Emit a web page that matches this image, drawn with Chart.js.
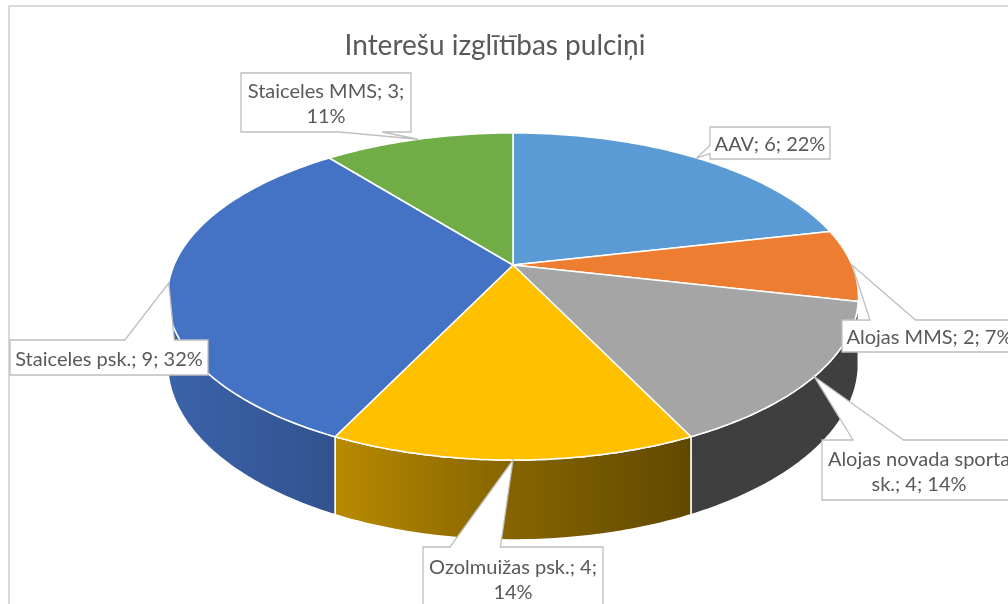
<!DOCTYPE html>
<html>
<head>
<meta charset="utf-8">
<script src="https://cdn.jsdelivr.net/npm/chart.js@4/dist/chart.umd.min.js"></script>
<style>
html,body{margin:0;padding:0;background:#fff}
#wrap{width:1008px;height:604px;position:relative}
</style>
</head>
<body>
<div id="wrap"><canvas id="pie"></canvas></div>
<script>
const title = 'Interešu izglītības pulciņi';
const labels = ['AAV','Alojas MMS','Alojas novada sporta sk.','Ozolmuižas psk.','Staiceles psk.','Staiceles MMS'];
const counts = [6,2,4,4,9,3];
const percents = [22,7,14,14,32,11];
const colors = ['#5B9BD5','#ED7D31','#A5A5A5','#FFC000','#4472C4','#70AD47'];

// callout boxes (x,y,w,h), side carrying the pointer, pointer base as fractions of that side
const callouts = [
  {box:[710,127,120,32], side:'left',   base:[0.58,0.83]},
  {box:[842,320,175,32], side:'top',    base:[0.16,0.42]},
  {box:[822,440,194,60], side:'top',    base:[0.16,0.42], wrap:3},
  {box:[423,547,180,62], side:'top',    base:[0.15,0.43], wrap:3},
  {box:[10,340,198,35],  side:'top',    base:[0.58,0.83]},
  {box:[241,73,170,59],  side:'bottom', base:[0.58,0.83], wrap:3}
];

// 3d look: perspective of the tilted disc, and shading of the side wall (left -> right)
const TILT = {a:1.937, e:-0.608, h:0.1927, depth:0.3686};
const wallShade = [[0,0.87],[0.245,0.72],[0.5,0.52],[0.755,0.38],[1,0.38]];
const FONT = 'Lato';

function shade(hex,f){
  const n=parseInt(hex.slice(1),16);
  const r=Math.round(((n>>16)&255)*f), g=Math.round(((n>>8)&255)*f), b=Math.round((n&255)*f);
  return `rgb(${r},${g},${b})`;
}

function projector(arc){
  const R=arc.outerRadius, cx=arc.x, cy=arc.y;
  const a=R*TILT.a, e=R*TILT.e, D=R*TILT.depth, h=TILT.h;
  return (t,r,down)=>{
    const s=Math.sin(t)*r, c=Math.cos(t)*r, w=1+h*c;
    return [cx+a*s/w, (e*c+cy+(down?D:0))/w];
  };
}

const pie3d = {
  id:'pie3d',
  beforeDatasetsDraw(chart){
    const ctx=chart.ctx, arcs=chart.getDatasetMeta(0).data;
    const P=projector(arcs[0]);
    const ts=Math.acos(-TILT.h), te=2*Math.PI-ts;
    const xR=P(ts,1)[0], xL=P(te,1)[0];
    ctx.save();
    ctx.lineJoin='round';
    // side walls
    arcs.forEach((arc,i)=>{
      const t1=Math.max(arc.startAngle+Math.PI/2,ts), t2=Math.min(arc.endAngle+Math.PI/2,te);
      if(t2<=t1) return;
      const g=ctx.createLinearGradient(xL,0,xR,0);
      wallShade.forEach(([p,f])=>g.addColorStop(p,shade(colors[i],f)));
      const n=Math.max(2,Math.ceil((t2-t1)*80));
      ctx.beginPath();
      for(let k=0;k<=n;k++){const p=P(t1+(t2-t1)*k/n,1,false);k?ctx.lineTo(p[0],p[1]):ctx.moveTo(p[0],p[1]);}
      for(let k=n;k>=0;k--){const p=P(t1+(t2-t1)*k/n,1,true);ctx.lineTo(p[0],p[1]);}
      ctx.closePath();
      ctx.fillStyle=g; ctx.fill();
      ctx.strokeStyle='#fff'; ctx.lineWidth=1.5; ctx.stroke();
    });
    // top face
    arcs.forEach((arc,i)=>{
      const t1=arc.startAngle+Math.PI/2, t2=arc.endAngle+Math.PI/2;
      const n=Math.max(2,Math.ceil((t2-t1)*80));
      const c=P(0,0,false);
      ctx.beginPath();
      ctx.moveTo(c[0],c[1]);
      for(let k=0;k<=n;k++){const p=P(t1+(t2-t1)*k/n,1,false);ctx.lineTo(p[0],p[1]);}
      ctx.closePath();
      ctx.fillStyle=colors[i]; ctx.fill();
      ctx.strokeStyle='#fff'; ctx.lineWidth=1.5; ctx.stroke();
    });
    ctx.restore();
    return false;
  },
  afterDraw(chart){
    const ctx=chart.ctx, arcs=chart.getDatasetMeta(0).data;
    const P=projector(arcs[0]);
    ctx.save();
    // chart border
    ctx.strokeStyle='#D9D9D9'; ctx.lineWidth=2;
    ctx.strokeRect(9,6,1100,700);
    // title
    ctx.fillStyle='#595959';
    ctx.font=`28px ${FONT}`;
    ctx.textAlign='center';
    ctx.fillText(title,495,55);
    // callouts
    ctx.font=`20px ${FONT}`;
    callouts.forEach((c,i)=>{
      const arc=arcs[i];
      const tip=P((arc.startAngle+arc.endAngle)/2+Math.PI/2,1,false);
      const [x,y,w,h]=c.box, [b0,b1]=c.base;
      ctx.beginPath();
      ctx.moveTo(x,y);
      if(c.side==='top'){ctx.lineTo(x+w*b0,y);ctx.lineTo(tip[0],tip[1]);ctx.lineTo(x+w*b1,y);}
      ctx.lineTo(x+w,y);
      ctx.lineTo(x+w,y+h);
      if(c.side==='bottom'){ctx.lineTo(x+w*b1,y+h);ctx.lineTo(tip[0],tip[1]);ctx.lineTo(x+w*b0,y+h);}
      ctx.lineTo(x,y+h);
      if(c.side==='left'){ctx.lineTo(x,y+h*b1);ctx.lineTo(tip[0],tip[1]);ctx.lineTo(x,y+h*b0);}
      ctx.closePath();
      ctx.fillStyle='#fff'; ctx.fill();
      ctx.strokeStyle='#BFBFBF'; ctx.lineWidth=1.3; ctx.stroke();
      const words=`${labels[i]}; ${counts[i]}; ${percents[i]}%`.split(' ');
      const lines=c.wrap?[words.slice(0,c.wrap).join(' '),words.slice(c.wrap).join(' ')]:[words.join(' ')];
      const lh=25, y0=y+h/2-(lines.length-1)*lh/2+8;
      ctx.fillStyle='#595959';
      lines.forEach((s,k)=>ctx.fillText(s,x+w/2,y0+k*lh));
    });
    ctx.restore();
  }
};

new Chart(document.getElementById('pie'),{
  type:'pie',
  data:{labels:labels,datasets:[{data:counts,backgroundColor:colors,borderWidth:0}]},
  options:{
    responsive:true,
    maintainAspectRatio:false,
    animation:false,
    layout:{padding:{left:163,right:145,top:90,bottom:164}},
    plugins:{legend:{display:false},title:{display:false},tooltip:{enabled:false}}
  },
  plugins:[pie3d]
});
</script>
</body>
</html>
